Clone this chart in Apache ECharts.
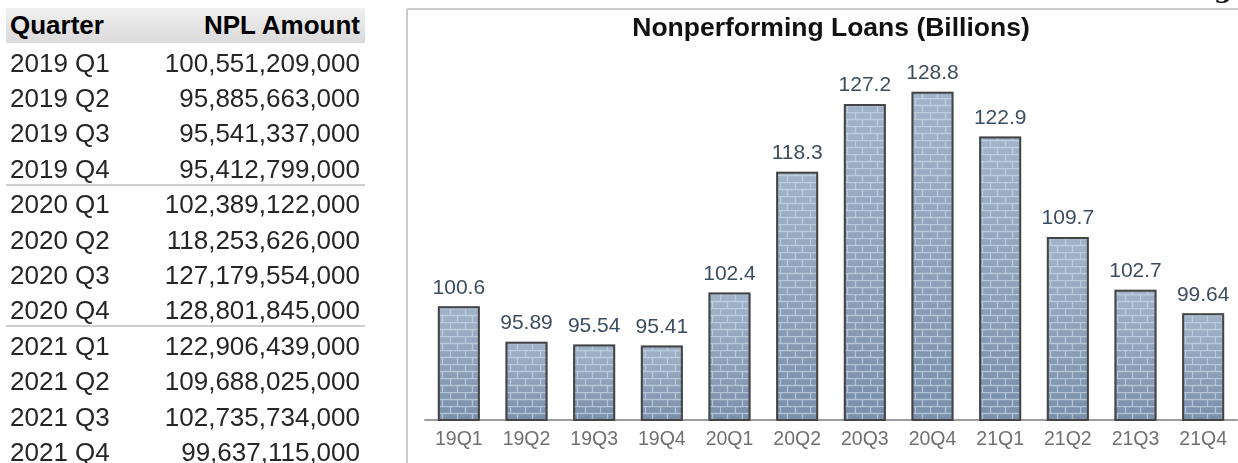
<!DOCTYPE html>
<html>
<head>
<meta charset="utf-8">
<script src="https://cdn.jsdelivr.net/npm/echarts@6/dist/echarts.min.js"></script>
<style>
  html, body { margin: 0; padding: 0; background: #fff; }
  #wrap { position: relative; width: 1238px; height: 463px; overflow: hidden; }
  #npl-chart { position: absolute; left: 0; top: 0; width: 1238px; height: 463px; }
  #npl-table { position: absolute; left: 0; top: 0; width: 400px; height: 463px;
    font-family: 'Liberation Sans', Arial, sans-serif; color: #262626; }
  .hdr { position: absolute; left: 6px; top: 8px; width: 359px; height: 35px;
    background: linear-gradient(#f0f0f0, #dadada); }
  .cell { position: absolute; font-size: 26px; line-height: 30px; white-space: nowrap; }
  .hdr .cell { font-weight: bold; color: #000; top: 2px; }
  .sep { position: absolute; left: 6px; width: 359px; height: 2px; background: #cdcdcd; }
</style>
</head>
<body>
<div id="wrap">
  <div id="npl-chart"></div>
  <div id="npl-table"></div>
</div>
<script>
// table + chart data
const quarters = ['2019 Q1', '2019 Q2', '2019 Q3', '2019 Q4', '2020 Q1', '2020 Q2',
  '2020 Q3', '2020 Q4', '2021 Q1', '2021 Q2', '2021 Q3', '2021 Q4'];
const shortLabels = ['19Q1', '19Q2', '19Q3', '19Q4', '20Q1', '20Q2',
  '20Q3', '20Q4', '21Q1', '21Q2', '21Q3', '21Q4'];
const nplAmounts = [100551209000, 95885663000, 95541337000, 95412799000, 102389122000, 118253626000,
  127179554000, 128801845000, 122906439000, 109688025000, 102735734000, 99637115000];
const groupEnds = [3, 7];

// --- table on the left
const table = document.getElementById('npl-table');
let html = '<div class="hdr"><div class="cell" style="left:4px">Quarter</div>' +
  '<div class="cell" style="right:5px">NPL Amount</div></div>';
quarters.forEach((q, i) => {
  const cy = 62.5 + 35.4 * i;
  html += '<div class="cell" style="left:10px;top:' + (cy - 15) + 'px">' + q + '</div>';
  html += '<div class="cell" style="right:40px;top:' + (cy - 15) + 'px">' +
    nplAmounts[i].toLocaleString('en-US') + '</div>';
  if (groupEnds.indexOf(i) >= 0) {
    html += '<div class="sep" style="top:' + (cy + 15) + 'px"></div>';
  }
});
table.innerHTML = html;

// --- brick tile
function brickTile() {
  const c = document.createElement('canvas');
  c.width = 30; c.height = 14;
  const ctx = c.getContext('2d');
  ctx.strokeStyle = 'rgba(205,220,235,0.65)';
  ctx.lineWidth = 1.3;
  ctx.beginPath();
  ctx.moveTo(0, 0.5); ctx.lineTo(30, 0.5);
  ctx.moveTo(0, 7.5); ctx.lineTo(30, 7.5);
  ctx.moveTo(0.5, 0); ctx.lineTo(0.5, 7);
  ctx.moveTo(15.5, 0); ctx.lineTo(15.5, 7);
  ctx.moveTo(7.5, 7); ctx.lineTo(7.5, 14);
  ctx.moveTo(22.5, 7); ctx.lineTo(22.5, 14);
  ctx.stroke();
  return c;
}

const billions = nplAmounts.map(v => v / 1e9);
const font = 'Liberation Sans';

const myChart = echarts.init(document.getElementById('npl-chart'));
const option = {
  animation: false,
  title: {
    text: 'Nonperforming Loans (Billions)',
    left: 826,
    top: 10,
    textAlign: 'center',
    textStyle: { fontFamily: font, fontSize: 26.5, fontWeight: 'bold', color: '#111' }
  },
  grid: { left: 425, right: 1, top: 40, bottom: 43 },
  xAxis: {
    type: 'category',
    data: shortLabels,
    axisLine: { lineStyle: { color: '#9c9c9c', width: 2 } },
    axisTick: { length: 6, lineStyle: { color: '#9c9c9c', width: 1.5 } },
    axisLabel: { fontFamily: font, fontSize: 19.5, color: '#707070', margin: 10 }
  },
  yAxis: { type: 'value', min: 85.6, max: 135.6, show: false },
  graphic: [
    { type: 'line', shape: { x1: 407, y1: 9, x2: 1238, y2: 9 }, style: { stroke: '#cccccc', lineWidth: 2 } },
    { type: 'line', shape: { x1: 407, y1: 9, x2: 407, y2: 463 }, style: { stroke: '#cccccc', lineWidth: 2 } },
    { type: 'text', left: 1214, top: -22, style: { text: 'g', font: 'bold 26px "DejaVu Serif"', fill: '#111' } }
  ],
  series: [
    {
      type: 'bar',
      data: billions,
      barWidth: 42,
      silent: true,
      itemStyle: {
        color: new echarts.graphic.LinearGradient(0, 0, 0, 1, [
          { offset: 0, color: '#a2b4c9' },
          { offset: 1, color: '#7a8faa' }
        ])
      }
    },
    {
      type: 'bar',
      data: billions,
      barWidth: 42,
      barGap: '-100%',
      itemStyle: {
        color: { image: brickTile(), repeat: 'repeat' },
        borderColor: '#454545',
        borderWidth: 2
      },
      label: {
        show: true,
        position: 'top',
        distance: 8,
        fontFamily: font,
        fontSize: 21,
        color: '#3c4d60',
        formatter: p => Number(p.value).toPrecision(4)
      }
    }
  ]
};
myChart.setOption(option);
</script>
</body>
</html>
